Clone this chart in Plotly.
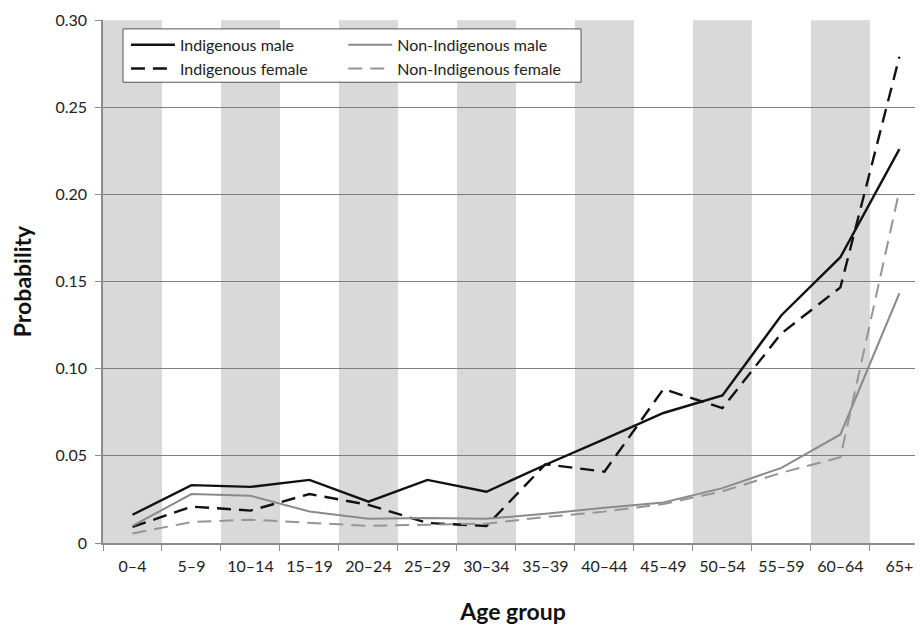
import plotly.graph_objects as go

age_groups = ["0–4", "5–9", "10–14", "15–19", "20–24", "25–29", "30–34",
              "35–39", "40–44", "45–49", "50–54", "55–59", "60–64", "65+"]

indigenous_male = [0.0162, 0.0332, 0.0322, 0.0362, 0.0237, 0.0362, 0.0294,
                   0.0449, 0.0596, 0.0746, 0.0847, 0.1307, 0.164, 0.226]
indigenous_female = [0.0092, 0.0209, 0.0186, 0.0281, 0.0219, 0.0115, 0.0098,
                     0.0452, 0.0409, 0.0883, 0.0774, 0.1203, 0.1467, 0.279]
non_indigenous_male = [0.0098, 0.0281, 0.0271, 0.0181, 0.0139, 0.0143, 0.0139,
                       0.0168, 0.0202, 0.0233, 0.0315, 0.0431, 0.0623, 0.1433]
non_indigenous_female = [0.0055, 0.0120, 0.0134, 0.0115, 0.0098, 0.0105, 0.0111,
                         0.0149, 0.0180, 0.0224, 0.0296, 0.0403, 0.0492, 0.2023]

y_tickvals = [0, 0.05, 0.10, 0.15, 0.20, 0.25, 0.30]
y_ticktext = ["0", "0.05", "0.10", "0.15", "0.20", "0.25", "0.30"]

FONT = "Lato"
fig = go.Figure()

series = [
    ("Indigenous male", indigenous_male, "#111111", "solid", 2.4, "legend"),
    ("Indigenous female", indigenous_female, "#111111", "14px,8px", 2.4, "legend"),
    ("Non-Indigenous male", non_indigenous_male, "#8a8a8a", "solid", 2.0, "legend2"),
    ("Non-Indigenous female", non_indigenous_female, "#959595", "14px,8px", 2.0, "legend2"),
]
for name, vals, col, dash, w, lg in series:
    fig.add_trace(go.Scatter(x=age_groups, y=vals, mode="lines", name=name,
                             line=dict(color=col, dash=dash, width=w),
                             legend=lg))

# alternating background bands
shapes = []
for i in range(0, len(age_groups), 2):
    shapes.append(dict(type="rect", xref="x", yref="y", x0=i - 0.5, x1=i + 0.5,
                       y0=0, y1=0.30, fillcolor="#d9d9d9", line=dict(width=0),
                       layer="below"))
# legend frame
shapes.append(dict(type="rect", xref="paper", yref="paper", x0=0.0244, x1=0.583,
                   y0=0.881, y1=0.983, fillcolor="white",
                   line=dict(color="#555555", width=1), layer="above"))

legend_font = dict(size=16, color="#222222")
fig.update_layout(
    width=923, height=629,
    margin=dict(l=95, r=8, t=12, b=94),
    paper_bgcolor="white", plot_bgcolor="white",
    font=dict(family=FONT, size=16, color="#222222"),
    shapes=shapes,
    legend=dict(x=0.028, y=0.985, xanchor="left", yanchor="top",
                bgcolor="rgba(0,0,0,0)", font=legend_font,
                tracegroupgap=0, itemwidth=44),
    legend2=dict(x=0.293, y=0.985, xanchor="left", yanchor="top",
                 bgcolor="rgba(0,0,0,0)", font=legend_font,
                 tracegroupgap=0, itemwidth=44),
    xaxis=dict(
        type="category", range=[-0.5, 13.4], showgrid=False, automargin=False,
        showline=True, linecolor="#8c8c8c", linewidth=1.5,
        ticks="outside", tickson="boundaries", ticklen=6, tickcolor="#8c8c8c",
        tickfont=dict(size=16, color="#222222"), ticklabelstandoff=8,
        ticklabeloverflow="allow",
        title=dict(text="<b>Age group</b>", font=dict(size=23, color="#111111"),
                   standoff=30),
    ),
    yaxis=dict(
        range=[0, 0.3001], tickvals=y_tickvals, ticktext=y_ticktext, automargin=False,
        showgrid=True, gridcolor="#7f7f7f", gridwidth=1,
        showline=True, linecolor="#8c8c8c", linewidth=1.5,
        ticks="outside", ticklen=6, tickcolor="#8c8c8c",
        tickfont=dict(size=16, color="#222222"), ticklabelstandoff=5,
        ticklabeloverflow="allow",
        zeroline=False,
        title=dict(text="<b>Probability</b>", font=dict(size=23, color="#111111"),
                   standoff=24),
    ),
    showlegend=True,
)

fig.write_html("out.html")
